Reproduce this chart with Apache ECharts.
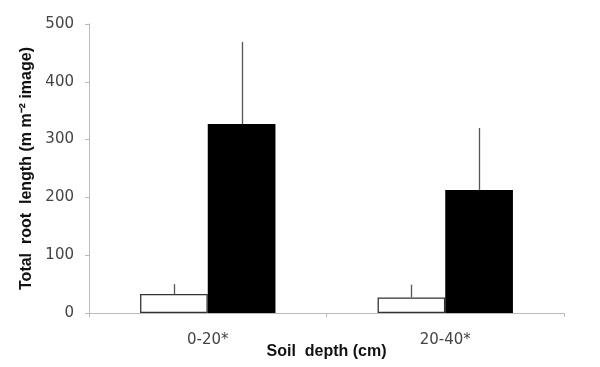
<!DOCTYPE html>
<html><head><meta charset="utf-8">
<script src="https://cdn.jsdelivr.net/npm/echarts@6/dist/echarts.min.js"></script>
<style>html,body{margin:0;padding:0;background:#fff}#c{width:600px;height:367px}</style>
</head><body><div id="c"></div>
<script>
const categories = ['0-20*', '20-40*'];
const openValues = [33, 27];
const openErrTop = [50, 49];
const filledValues = [327, 213];
const filledErrTop = [469, 320];
const yTicks = [0, 100, 200, 300, 400, 500];

const GAP = 0.43;
function errSeries(vals, tops, side) {
  return {
    type: 'custom',
    silent: true,
    z: 1,
    data: vals.map((v, i) => [i, v, tops[i]]),
    renderItem: function (params, api) {
      const band = api.size([1, 0])[0];
      const group = band * (1 - GAP);
      const off = side * group / 4;
      const p0 = api.coord([api.value(0), api.value(1)]);
      const p1 = api.coord([api.value(0), api.value(2)]);
      const x = Math.round(p0[0] + off) + 0.5;
      return {
        type: 'line',
        shape: { x1: x, y1: p0[1], x2: x, y2: p1[1] },
        style: { stroke: '#555', lineWidth: 1.3 }
      };
    }
  };
}

const chart = echarts.init(document.getElementById('c'));
chart.setOption({
  animation: false,
  grid: { left: 89, right: 36, top: 24, bottom: 54, containLabel: false, outerBoundsMode: 'none' },
  xAxis: {
    type: 'category',
    data: categories,
    axisLine: { lineStyle: { color: '#bbb', width: 1 } },
    axisTick: { show: true, length: 4, lineStyle: { color: '#bbb' } },
    axisLabel: { color: '#444', fontFamily: 'DejaVu Sans', fontSize: 15, margin: 20 },
    name: 'Soil  depth (cm)',
    nameLocation: 'middle',
    nameGap: 31,
    nameMoveOverlap: false,
    nameTextStyle: { fontFamily: 'Liberation Sans', fontWeight: 'bold', fontSize: 16, color: '#111' }
  },
  yAxis: {
    type: 'value',
    min: 0, max: 500, interval: 100,
    axisLine: { show: true, lineStyle: { color: '#bbb' } },
    axisTick: { show: true, length: 4, lineStyle: { color: '#bbb' } },
    splitLine: { show: false },
    axisLabel: { color: '#444', fontFamily: 'DejaVu Sans', fontSize: 15, margin: 15,
      formatter: v => yTicks.includes(v) ? String(v) : '' },
    name: 'Total  root  length (m m\u207B\u00B2 image)',
    nameLocation: 'middle',
    nameGap: 54,
    nameRotate: 90,
    nameMoveOverlap: false,
    nameTextStyle: { fontFamily: 'Liberation Sans', fontWeight: 'bold', fontSize: 16, color: '#111' }
  },
  series: [
    {
      type: 'bar', data: openValues, barGap: '0%', barCategoryGap: (GAP * 100) + '%', z: 2,
      itemStyle: { color: '#fff', borderColor: '#333', borderWidth: 1.3 }
    },
    {
      type: 'bar', data: filledValues, barGap: '0%', barCategoryGap: (GAP * 100) + '%', z: 2,
      itemStyle: { color: '#000', borderColor: '#000', borderWidth: 0 }
    },
    errSeries(openValues, openErrTop, -1),
    errSeries(filledValues, filledErrTop, 1)
  ]
});
</script></body></html>
